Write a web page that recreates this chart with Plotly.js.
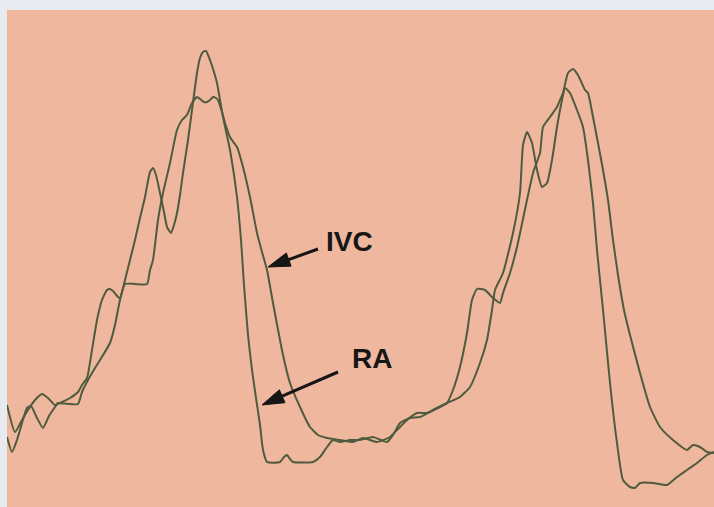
<!DOCTYPE html>
<html>
<head>
<meta charset="utf-8">
<script src="https://cdn.plot.ly/plotly-3.0.1.min.js"></script>
<style>
  html, body { margin: 0; padding: 0; background: #e7ebf0; }
  #chart { width: 714px; height: 507px; }
</style>
</head>
<body>
<div id="chart"></div>
<script>
// Right atrial (RA) pressure tracing: sample time and amplitude
const raTime = [7, 15, 22, 28, 35, 42, 48, 55, 62, 70, 78, 82, 87, 92, 97, 102, 107, 110, 113, 118, 120,
  125, 130, 135, 140, 145, 150, 153, 156, 160, 164, 167, 171, 174, 177, 180, 183, 188, 192, 197, 200,
  203, 206, 210, 214, 217, 223, 230, 237, 241, 244, 248, 252, 256, 260, 263, 267, 280, 284, 287, 290,
  293, 313, 320, 327, 333, 340, 350, 360, 373, 387, 393, 400, 410, 420, 433, 447, 460, 470, 480, 487,
  492, 495, 503, 513, 520, 523, 527, 532, 537, 542, 547, 552, 557, 562, 565, 570, 577, 583, 588, 593,
  597, 601, 604, 610, 617, 623, 630, 635, 640, 653, 667, 677, 687, 697, 707, 714];
const raAmp = [102, 75, 87, 97, 107, 113, 109, 102, 105, 109, 115, 122, 129, 157, 187, 207, 217, 218, 216, 210, 209,
  227, 247, 267, 289, 310, 335, 339, 332, 314, 295, 280, 274, 282, 294, 312, 334, 367, 397, 434, 449,
  455, 456, 447, 435, 424, 390, 357, 310, 267, 222, 172, 137, 109, 82, 57, 45, 45, 50, 52, 48,
  45, 45, 50, 60, 67, 65, 67, 67, 70, 65, 72, 84, 89, 90, 97, 104, 110, 120, 144, 167,
  197, 217, 234, 274, 314, 362, 375, 364, 337, 320, 324, 347, 380, 407, 419, 414, 397, 380, 347, 304,
  257, 217, 187, 124, 64, 27, 20, 19, 24, 24, 22, 30, 37, 44, 52, 55];

// Inferior vena cava (IVC) pressure tracing: sample time and amplitude
const ivcTime = [7, 12, 17, 20, 27, 31, 37, 43, 49, 55, 58, 68, 78, 82, 88, 95, 100, 110, 115, 120, 125,
  135, 147, 150, 153, 158, 163, 170, 177, 182, 187, 192, 197, 200, 204, 207, 210, 213, 216, 218, 222,
  225, 230, 234, 237, 243, 250, 257, 262, 267, 273, 283, 290, 300, 310, 318, 327, 340, 353, 363, 377,
  390, 397, 407, 417, 427, 440, 447, 453, 460, 467, 472, 477, 485, 492, 500, 503, 510, 517, 527, 533,
  540, 543, 550, 557, 560, 563, 568, 573, 578, 585, 588, 593, 598, 603, 608, 613, 618, 624, 630, 640,
  650, 660, 673, 687, 693, 700, 707, 714];
const ivcAmp = [70, 55, 67, 77, 99, 101, 89, 79, 91, 100, 104, 103, 103, 115, 127, 139, 147, 164, 182, 207, 223,
  223, 223, 237, 247, 287, 314, 344, 377, 387, 392, 404, 410, 408, 405, 405, 407, 410, 409, 407, 395,
  384, 370, 364, 360, 340, 310, 274, 255, 237, 204, 152, 124, 100, 80, 72, 69, 67, 65, 69, 65,
  70, 77, 87, 94, 94, 100, 104, 117, 140, 174, 207, 218, 217, 210, 204, 214, 234, 260, 307, 334,
  354, 380, 390, 400, 407, 414, 434, 438, 432, 417, 414, 390, 364, 337, 307, 267, 232, 197, 172, 134,
  100, 80, 67, 57, 62, 60, 55, 54];

const traceColor = '#4f5b3e';
const inkColor = '#161616';

// Label text and arrow geometry (tail -> tip) in axis units
const labels = [
  { text: 'IVC', x: 349, y: 266, tail: [318, 258], tip: [268, 240] },
  { text: 'RA',  x: 372, y: 149, tail: [338, 135], tip: [262, 102] }
];

function arrowShapes(tail, tip) {
  const dx = tip[0] - tail[0], dy = tip[1] - tail[1];
  const len = Math.hypot(dx, dy);
  const ux = dx / len, uy = dy / len;
  const headLen = 22, halfW = 7;
  const bx = tip[0] - ux * headLen, by = tip[1] - uy * headLen;
  const px = -uy * halfW, py = ux * halfW;
  return [
    { type: 'line', xref: 'x', yref: 'y', x0: tail[0], y0: tail[1], x1: bx, y1: by,
      line: { color: inkColor, width: 3 } },
    { type: 'path', xref: 'x', yref: 'y',
      path: `M ${tip[0]} ${tip[1]} L ${bx + px} ${by + py} L ${bx - px} ${by - py} Z`,
      fillcolor: inkColor, line: { color: inkColor, width: 1 } }
  ];
}

const traces = [
  { name: 'IVC', x: ivcTime, y: ivcAmp, type: 'scatter', mode: 'lines',
    line: { color: traceColor, width: 2, shape: 'spline', smoothing: 0.5 }, hoverinfo: 'skip' },
  { name: 'RA', x: raTime, y: raAmp, type: 'scatter', mode: 'lines',
    line: { color: traceColor, width: 2, shape: 'spline', smoothing: 0.5 }, hoverinfo: 'skip' }
];

const layout = {
  width: 714, height: 507,
  margin: { l: 7, r: 0, t: 10, b: 0, pad: 0 },
  paper_bgcolor: '#e7ebf0',
  plot_bgcolor: '#efb89e',
  showlegend: false,
  xaxis: { range: [7, 714], visible: false, fixedrange: true },
  yaxis: { range: [0, 497], visible: false, fixedrange: true },
  shapes: labels.flatMap(l => arrowShapes(l.tail, l.tip)),
  annotations: labels.map(l => ({
    text: l.text, x: l.x, y: l.y, xref: 'x', yref: 'y', showarrow: false,
    xanchor: 'center', yanchor: 'middle',
    font: { family: 'Liberation Sans, Arial, sans-serif', size: 28, color: inkColor, weight: 'bold' }
  }))
};

Plotly.newPlot('chart', traces, layout, { staticPlot: true, displayModeBar: false });
</script>
</body>
</html>
